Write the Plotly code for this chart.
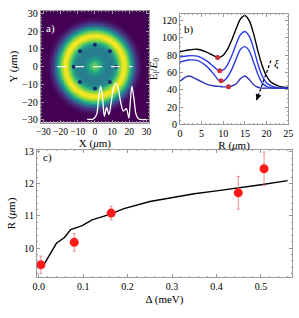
import numpy as np
import plotly.graph_objects as go

# ---------- panel a data ----------
ring_r = [0, 2, 4, 6, 8, 10, 12, 14, 16, 17, 18, 20, 22, 24, 26, 28, 40]
ring_v = [0.8, 0.72, 0.55, 0.45, 0.42, 0.43, 0.52, 0.75, 0.95, 1.0, 0.96, 0.75, 0.45, 0.18, 0.05, 0.0, 0.0]
dot_x = [0, 8.7, 12.3, 8.7, 0, -8.7, -12.3, -8.7]
dot_y = [12.3, 8.7, 0, -8.7, -12.3, -8.7, 0, 8.7]
cut_x = [-22, 22]
cut_y = [0, 0]
prof_x = [-4.5, -1, 1, 2.2, 3.3, 4.4, 5.5, 6.8, 8.2, 9.5, 11, 12.2, 13.5, 15, 16.5, 18.3, 19.8, 20.6, 21.5, 22.6, 24, 25.5, 30]
prof_y = [-29.7, -29.5, -27, -17, -11, -17, -28, -23, -27, -20, -11, -9.4, -12, -20, -25, -23.7, -29, -20, -11, -17, -27, -29.5, -29.7]

# ---------- panel b data ----------
R_b = [0, 2, 4, 6, 8, 9, 10, 11, 12, 13, 14, 15, 16, 17, 18, 19, 20, 21, 22, 23, 24, 25]
E_black = [84, 86, 87, 84, 79, 77.5, 80, 87, 98, 111, 122, 126, 120, 105, 85, 68, 56, 49, 46, 44, 43, 43]
E_blue1 = [78, 79.5, 79, 74, 66, 62, 63, 69, 80, 93, 104, 107.5, 102, 88, 70, 56, 48, 45, 43, 42, 42, 42]
E_blue2 = [72, 74.5, 74, 68, 57, 51, 50, 55, 64, 76, 87, 90, 85, 72, 58, 48, 44, 42.5, 42, 42, 42, 42]
E_blue3 = [50, 56, 52, 47, 44.5, 44, 43.5, 43.5, 44.5, 47, 53, 56, 52, 46, 43, 42, 42, 42, 42, 42, 42, 42]
min_R = [8.7, 9.2, 9.5, 11.2]
min_E = [77.5, 62, 50.5, 43.5]
arrow_R = [21.0, 17.7]
arrow_E = [74, 28]

# ---------- panel c data ----------
delta_pts = [0.005, 0.08, 0.163, 0.449, 0.507]
R_pts = [9.48, 10.18, 11.09, 11.72, 12.47]
R_err = [0.27, 0.27, 0.21, 0.51, 0.52]
delta_line = [0.01, 0.04, 0.058, 0.072, 0.098, 0.12, 0.16, 0.19, 0.25, 0.3, 0.35, 0.4, 0.45, 0.5, 0.56]
R_line = [9.45, 10.15, 10.33, 10.58, 10.7, 10.88, 11.05, 11.22, 11.45, 11.58, 11.69, 11.78, 11.87, 11.97, 12.1]

W, H = 299, 318
def px(x): return x / W
def py(y): return 1 - y / H

SERIF = "Liberation Serif"
FRAME = "#9a9a9a"

fig = go.Figure()

g = np.linspace(-31.5, 31.5, 160)
XX, YY = np.meshgrid(g, g)
Z = np.interp(np.sqrt(XX**2 + YY**2), ring_r, ring_v)
fig.add_trace(go.Heatmap(x=g, y=g, z=Z, colorscale="Viridis", showscale=False,
                         xaxis="x", yaxis="y", hoverinfo="skip"))
fig.add_trace(go.Scatter(x=dot_x, y=dot_y, mode="markers", xaxis="x", yaxis="y",
                         marker=dict(color="#1a2a6c", size=4), showlegend=False))
fig.add_trace(go.Scatter(x=cut_x, y=cut_y, mode="lines", xaxis="x", yaxis="y",
                         line=dict(color="rgba(255,255,255,0.9)", width=1.2, dash="dash"), showlegend=False))
fig.add_trace(go.Scatter(x=prof_x, y=prof_y, mode="lines", xaxis="x", yaxis="y",
                         line=dict(color="white", width=1.3, shape="spline", smoothing=0.8), showlegend=False))

for E, col in [(E_black, "black"), (E_blue1, "#2b3bf0"), (E_blue2, "#2b3be0"), (E_blue3, "#2a35b8")]:
    fig.add_trace(go.Scatter(x=R_b, y=E, mode="lines", xaxis="x2", yaxis="y2",
                             line=dict(color=col, width=1.4, shape="spline", smoothing=0.9), showlegend=False))
fig.add_trace(go.Scatter(x=min_R, y=min_E, mode="markers", xaxis="x2", yaxis="y2",
                         marker=dict(color="#c8323c", size=5), showlegend=False))
fig.add_trace(go.Scatter(x=arrow_R, y=arrow_E, mode="lines", xaxis="x2", yaxis="y2",
                         line=dict(color="black", width=1.2, dash="3px,2px"), showlegend=False))

fig.add_trace(go.Scatter(x=delta_line, y=R_line, mode="lines", xaxis="x3", yaxis="y3",
                         line=dict(color="black", width=1.4), showlegend=False))
fig.add_trace(go.Scatter(x=delta_pts, y=R_pts, mode="markers", xaxis="x3", yaxis="y3",
                         error_y=dict(type="data", array=R_err, color="#f08a8a", thickness=1, width=1.5),
                         marker=dict(color="#ff1a1a", size=9), showlegend=False))

tickfont = dict(family=SERIF, size=10, color="black")
titlefont = dict(family=SERIF, size=11, color="black")

def ax(domain, rng, dtick, anchor, title, standoff, minor_dtick):
    return dict(domain=domain, range=rng, dtick=dtick, anchor=anchor,
                showline=True, linecolor=FRAME, linewidth=1, mirror="allticks",
                ticks="inside", ticklen=3, tickcolor=FRAME, tickfont=tickfont,
                minor=dict(ticks="inside", ticklen=1.5, tickcolor=FRAME, dtick=minor_dtick),
                showgrid=False, zeroline=False, tickangle=0,
                title=dict(text=title, font=titlefont, standoff=standoff))

fig.update_layout(
    width=W, height=H, margin=dict(l=0, r=0, t=0, b=0),
    paper_bgcolor="white", plot_bgcolor="white", showlegend=False,
    xaxis=ax([px(37), px(149)], [-31.5, 31.5], 10, "y", "X (<i>μ</i>m)", 1, 2),
    yaxis=ax([py(122), py(7)], [-31.5, 31.5], 10, "x", "Y (<i>μ</i>m)", 2, 2),
    xaxis2=ax([px(181), px(293)], [0, 25], 5, "y2", "R (<i>μ</i>m)", 1, 1),
    yaxis2=ax([py(124), py(10)], [0, 128], 20, "x2", "E<sub>l</sub>/<i>E</i><sub>0</sub>", 2, 5),
    xaxis3=ax([px(33), px(297)], [-0.004, 0.57], 0.1, "y3", "Δ (meV)", 4, 0.02),
    yaxis3=ax([py(281), py(150)], [9.1, 13.06], 1, "x3", "R (<i>μ</i>m)", 6, 0.2),
)
fig.layout.xaxis3.tickformat = ".1f"
ticks_a = [-30, -20, -10, 0, 10, 20, 30]
labels_a = ["−30", "−20", "−10", "0", "10", "20", "30"]
fig.layout.xaxis.tickvals = ticks_a
fig.layout.xaxis.ticktext = labels_a
fig.layout.xaxis.tickfont = dict(family=SERIF, size=9.5, color="black")
fig.layout.yaxis.tickvals = ticks_a
fig.layout.yaxis.ticktext = labels_a
fig.layout.xaxis2.ticklabeloverflow = "allow"
fig.layout.xaxis.ticklabeloverflow = "allow"

fig.add_annotation(x=arrow_R[1], y=arrow_E[1], ax=arrow_R[1] + 0.35, ay=arrow_E[1] + 5,
                   xref="x2", yref="y2", axref="x2", ayref="y2", text="", showarrow=True,
                   arrowhead=2, arrowsize=1, arrowwidth=1.2, arrowcolor="black")
fig.add_annotation(x=22.4, y=71, xref="x2", yref="y2", text="<i>ξ</i>", showarrow=False,
                   font=dict(family=SERIF, size=11, color="black"))
fig.add_annotation(x=px(40), y=py(16), xref="paper", yref="paper", text="a)", showarrow=False,
                   xanchor="left", font=dict(family=SERIF, size=11, color="white"))
fig.add_annotation(x=px(183), y=py(17), xref="paper", yref="paper", text="b)", showarrow=False,
                   xanchor="left", font=dict(family=SERIF, size=11, color="black"))
fig.add_annotation(x=px(37), y=py(158), xref="paper", yref="paper", text="c)", showarrow=False,
                   xanchor="left", font=dict(family=SERIF, size=11, color="black"))

fig.write_html("out.html", config={"displayModeBar": False},
               post_script="document.body.style.margin='0';")
